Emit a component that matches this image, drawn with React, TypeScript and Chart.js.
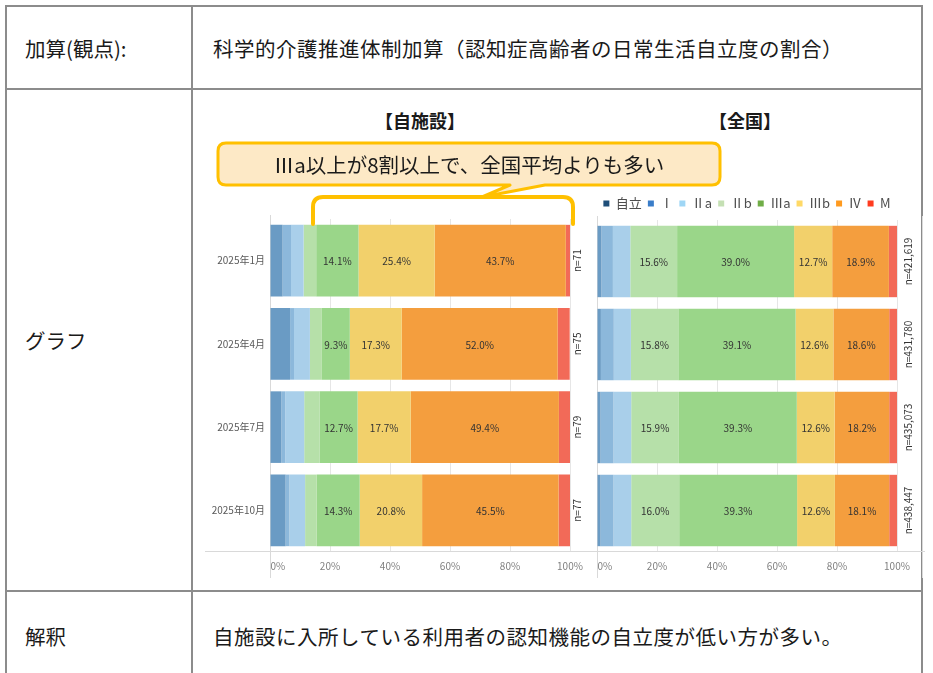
import React, { useEffect, useRef } from "react";
import { Chart, registerables } from "chart.js";
Chart.register(...registerables);

const FONT = "'Noto Sans CJK JP', 'Noto Sans', sans-serif";

const categories = ["2025年1月", "2025年4月", "2025年7月", "2025年10月"];
const levels = ["自立", "Ⅰ", "Ⅱa", "Ⅱb", "Ⅲa", "Ⅲb", "Ⅳ", "M"];
const barColors = ["#6a9bc4", "#8cb8db", "#a9cfea", "#b6e0a9", "#9ad689", "#f2d06b", "#f49e3e", "#f26a58"];
const legendColors = ["#1f4e79", "#3a7dc9", "#9fd6f5", "#c5e0b4", "#70ad47", "#ffd966", "#ff9a1f", "#ff3b1f"];
const xTicks = [0, 20, 40, 60, 80, 100];

// 自施設 (%)
const facJiritsu = [4.2, 6.7, 3.8, 5.2];
const facI = [2.8, 1.3, 1.3, 1.3];
const facIIa = [4.2, 5.3, 6.3, 5.2];
const facIIb = [4.2, 4.0, 5.1, 3.9];
const facIIIa = [14.1, 9.3, 12.7, 14.3];
const facIIIb = [25.4, 17.3, 17.7, 20.8];
const facIV = [43.7, 52.0, 49.4, 45.5];
const facM = [1.4, 4.0, 3.8, 3.9];
const facN = ["n=71", "n=75", "n=79", "n=77"];

// 全国 (%)
const natJiritsu = [1.5, 1.3, 1.2, 1.2];
const natI = [3.8, 4.3, 4.3, 4.3];
const natIIa = [5.8, 5.7, 5.9, 5.9];
const natIIb = [15.6, 15.8, 15.9, 16.0];
const natIIIa = [39.0, 39.1, 39.3, 39.3];
const natIIIb = [12.7, 12.6, 12.6, 12.6];
const natIV = [18.9, 18.6, 18.2, 18.1];
const natM = [2.7, 2.6, 2.6, 2.6];
const natN = ["n=421,619", "n=431,780", "n=435,073", "n=438,447"];

const facValues = [facJiritsu, facI, facIIa, facIIb, facIIIa, facIIIb, facIV, facM];
const natValues = [natJiritsu, natI, natIIa, natIIb, natIIIa, natIIIb, natIV, natM];

const segPlugin = {
  id: "segLabels",
  beforeDatasetsDraw(chart: any, _a: any, opts: any) {
    const ctx = chart.ctx;
    const area = chart.chartArea;
    ctx.save();
    ctx.strokeStyle = "#d9d9d9";
    ctx.lineWidth = 1;
    ctx.beginPath();
    ctx.moveTo(opts.hLineFrom ?? 0, Math.round(area.bottom) - 0.5);
    ctx.lineTo(chart.width, Math.round(area.bottom) - 0.5);
    ctx.moveTo(Math.round(area.left) + 0.5, area.top - 4);
    ctx.lineTo(Math.round(area.left) + 0.5, chart.height - 2);
    if (opts.rightFrame) {
      ctx.moveTo(chart.width - 2.5, area.top - 4);
      ctx.lineTo(chart.width - 2.5, chart.height - 2);
    }
    ctx.stroke();
    ctx.restore();
  },
  afterDatasetsDraw(chart: any, _a: any, opts: any) {
    const ctx = chart.ctx;
    const area = chart.chartArea;
    ctx.save();
    ctx.font = `10px ${FONT}`;
    ctx.fillStyle = "#333333";
    ctx.textAlign = "center";
    ctx.textBaseline = "middle";
    chart.data.datasets.forEach((ds: any, di: number) => {
      const meta = chart.getDatasetMeta(di);
      meta.data.forEach((bar: any, i: number) => {
        const v = ds.data[i] as number;
        if (v >= 8) {
          const { x, base, y } = bar.getProps(["x", "base", "y"], true);
          ctx.fillText(v.toFixed(1) + "%", (x + base) / 2, y + 1);
        }
      });
    });
    const nl: string[] = opts.n || [];
    chart.getDatasetMeta(0).data.forEach((bar: any, i: number) => {
      ctx.save();
      ctx.translate(area.right + opts.nOffset, bar.y);
      ctx.rotate(-Math.PI / 2);
      ctx.fillText(nl[i], 0, 0);
      ctx.restore();
    });
    ctx.restore();
  },
};

type Props = {
  values: number[][];
  nLabels: string[];
  showCats: boolean;
  legend: boolean;
  left: number;
  top: number;
  width: number;
  height: number;
  padTop: number;
  padRight: number;
  padLeft: number;
  yWidth: number;
  nOffset: number;
  rightFrame: boolean;
};

function StackChart(p: Props) {
  const ref = useRef<HTMLCanvasElement>(null);
  useEffect(() => {
    const chart = new Chart(ref.current as HTMLCanvasElement, {
      type: "bar",
      data: {
        labels: categories,
        datasets: levels.map((l, i) => ({
          label: l,
          data: p.values[i],
          backgroundColor: barColors[i],
          borderWidth: 0,
          categoryPercentage: 1,
          barPercentage: 0.86,
        })),
      },
      options: {
        indexAxis: "y",
        responsive: false,
        animation: false,
        devicePixelRatio: 1,
        layout: { padding: { top: p.padTop, right: p.padRight, left: p.padLeft, bottom: 0 } },
        scales: {
          x: {
            stacked: true,
            min: 0,
            max: 100,
            afterBuildTicks: (s: any) => {
              s.ticks = xTicks.map((v) => ({ value: v }));
            },
            ticks: {
              callback: (v: any) => (v === 0 ? "       0%" : v + "%"),
              font: { size: 10, family: FONT },
              color: "#808080",
              padding: 8,
              maxRotation: 0,
            },
            grid: { color: "#e6e6e6", drawTicks: false },
            border: { display: false },
            afterFit: (s: any) => {
              s.height = 28;
              s.paddingLeft = 0;
              s.paddingRight = 0;
            },
          },
          y: {
            stacked: true,
            display: p.showCats,
            grid: { display: false, drawTicks: false },
            border: { display: false },
            ticks: { font: { size: 10, family: FONT }, color: "#595959", padding: 5 },
            afterFit: (s: any) => {
              s.width = p.yWidth;
            },
          },
        },
        plugins: {
          legend: {
            display: p.legend,
            position: "top",
            align: "center",
            labels: {
              boxWidth: 6,
              boxHeight: 6,
              padding: 6,
              font: { size: 13, family: FONT },
              color: "#4d4d4d",
              generateLabels: () =>
                levels.map((t, i) => ({
                  text: t,
                  fillStyle: legendColors[i],
                  strokeStyle: legendColors[i],
                  lineWidth: 0,
                  hidden: false,
                  datasetIndex: i,
                  fontColor: "#4d4d4d",
                })),
            },
          },
          tooltip: { enabled: false },
          segLabels: { n: p.nLabels, nOffset: p.nOffset, rightFrame: p.rightFrame, hLineFrom: 0 },
        } as any,
      },
      plugins: [segPlugin as any],
    });
    return () => chart.destroy();
  }, []);
  return (
    <canvas
      ref={ref}
      width={p.width}
      height={p.height}
      style={{ position: "absolute", left: p.left, top: p.top, width: p.width, height: p.height }}
    />
  );
}

const B = "#8c8c8c";

function Line(props: { x: number; y: number; w: number; h: number }) {
  return <div style={{ position: "absolute", left: props.x, top: props.y, width: props.w, height: props.h, background: B }} />;
}

function Txt(props: { x: number; y: number; size: number; bold?: boolean; children: React.ReactNode; center?: boolean; ls?: number }) {
  return (
    <div
      style={{
        position: "absolute",
        left: props.x,
        top: props.y,
        fontSize: props.size,
        fontWeight: props.bold ? 700 : 400,
        letterSpacing: props.ls ?? 0,
        lineHeight: 1,
        whiteSpace: "nowrap",
        color: "#1a1a1a",
        transform: props.center ? "translate(-50%, -50%)" : "translate(0, -50%)",
      }}
    >
      {props.children}
    </div>
  );
}

export default function App() {
  return (
    <div
      style={{
        position: "fixed",
        left: 0,
        top: 0,
        width: 933,
        height: 673,
        overflow: "hidden",
        background: "#ffffff",
        fontFamily: FONT,
      }}
    >
      <Line x={5} y={5} w={918} h={2} />
      <Line x={5} y={5} w={2} h={670} />
      <Line x={921} y={5} w={2} h={670} />
      <Line x={191} y={5} w={2} h={670} />
      <Line x={5} y={88} w={918} h={2} />
      <Line x={5} y={590} w={918} h={2} />

      <Txt x={25} y={48} size={20.5}>加算(観点):</Txt>
      <Txt x={213} y={48} size={20.5} ls={0.5}>科学的介護推進体制加算（認知症高齢者の日常生活自立度の割合）</Txt>
      <Txt x={25} y={340} size={20.5}>グラフ</Txt>
      <Txt x={25} y={636} size={20.5}>解釈</Txt>
      <Txt x={213} y={636} size={20.5} ls={0.5}>自施設に入所している利用者の認知機能の自立度が低い方が多い。</Txt>

      <Txt x={420} y={120} size={18} bold center>【自施設】</Txt>
      <Txt x={745} y={120} size={18} bold center>【全国】</Txt>

      <StackChart
        values={facValues}
        nLabels={facN}
        showCats={true}
        legend={false}
        left={205}
        top={205}
        width={390}
        height={375}
        padTop={14}
        padRight={25}
        padLeft={0}
        yWidth={65}
        nOffset={7}
        rightFrame={false}
      />
      <StackChart
        values={natValues}
        nLabels={natN}
        showCats={false}
        legend={true}
        left={595}
        top={191}
        width={330}
        height={389}
        padTop={0}
        padRight={28}
        padLeft={2}
        yWidth={0}
        nOffset={11}
        rightFrame={true}
      />

      <svg width={933} height={673} style={{ position: "absolute", left: 0, top: 0, pointerEvents: "none" }}>
        <path
          d="M 313 224 L 313 207 Q 313 197 323 197 L 563 197 Q 573 197 573 207 L 573 224"
          fill="none"
          stroke="#ffc000"
          strokeWidth={4}
          strokeLinecap="round"
        />
        <path
          d="M 226 143 H 712 Q 720 143 720 151 V 177 Q 720 185 712 185 H 545 L 482 197 L 510 185 H 226 Q 218 185 218 177 V 151 Q 218 143 226 143 Z"
          fill="#fde9c6"
          stroke="#ffc000"
          strokeWidth={3}
          strokeLinejoin="round"
        />
      </svg>
      <Txt x={469} y={164} size={20.5} center>Ⅲa以上が8割以上で、全国平均よりも多い</Txt>
    </div>
  );
}
